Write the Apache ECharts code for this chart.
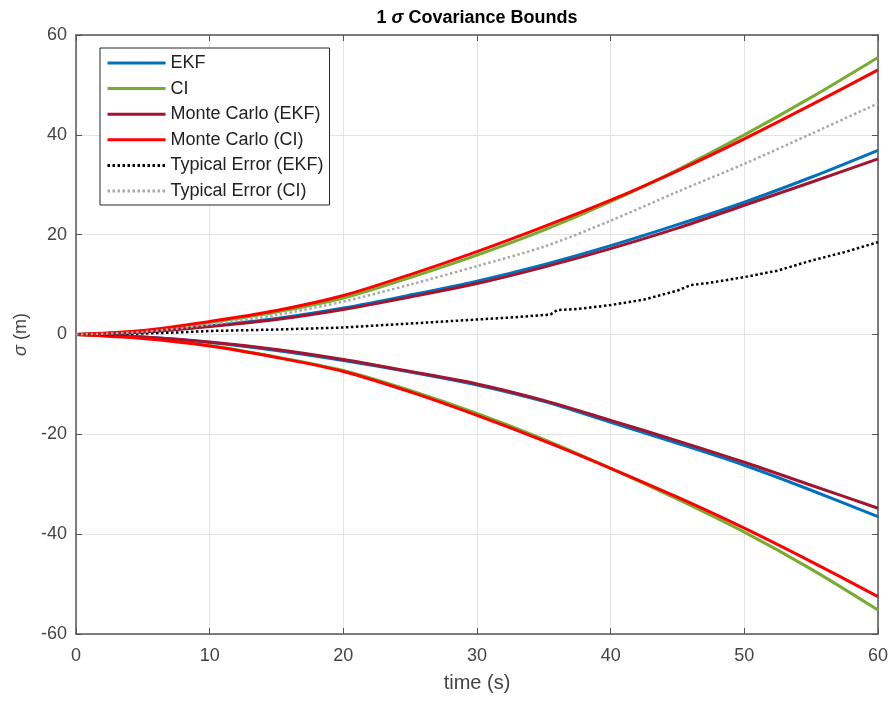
<!DOCTYPE html>
<html>
<head>
<meta charset="utf-8">
<script src="https://cdn.jsdelivr.net/npm/echarts@6/dist/echarts.min.js"></script>
<style>
  html, body { margin: 0; padding: 0; background: #fff; }
  #chart { width: 893px; height: 701px; }
</style>
</head>
<body>
<div id="chart"></div>
<script>
// 1 sigma covariance bounds

var xTicks = [0, 10, 20, 30, 40, 50, 60];
var yTicks = [-60, -40, -20, 0, 20, 40, 60];

// time samples (s) for the bound curves
var tBound = [0, 5, 10, 15, 20, 25, 30, 35, 40, 45, 50, 55, 60];

// upper bounds
var ekfUp    = [0, 0.5, 1.7, 3.2, 5.3, 7.9, 10.7, 14.0, 17.8, 22.0, 26.5, 31.5, 36.9];
var ciUp     = [0, 0.7, 2.4, 4.5, 7.3, 11.4, 15.9, 20.9, 26.6, 33.0, 40.0, 47.5, 55.5];
var mcEkfUp  = [0, 0.5, 1.6, 3.0, 5.0, 7.5, 10.2, 13.5, 17.2, 21.3, 25.9, 30.5, 35.2];
var mcCiUp   = [0, 0.8, 2.6, 4.8, 7.8, 12.0, 16.6, 21.6, 26.9, 32.8, 39.2, 46.0, 53.0];

// lower bounds
var ekfLo    = [0, -0.5, -1.6, -3.2, -5.2, -7.5, -10.1, -13.4, -17.6, -21.8, -26.2, -31.2, -36.5];
var ciLo     = [0, -0.7, -2.2, -4.5, -7.2, -11.2, -15.8, -21.0, -26.8, -33.0, -39.6, -47.0, -55.2];
var mcEkfLo  = [0, -0.5, -1.5, -3.0, -5.0, -7.4, -9.9, -13.2, -17.2, -21.3, -25.6, -30.2, -34.8];
var mcCiLo   = [0, -0.8, -2.3, -4.6, -7.4, -11.5, -16.2, -21.3, -26.8, -32.6, -38.8, -45.5, -52.5];

// typical error (EKF) — noisy, with a small step near 35.5 s
var tErrEkf  = [0, 2.5, 5, 7.5, 10, 12.5, 15, 17.5, 20, 22.5, 25, 27.5, 30, 32.5, 35, 35.5, 36, 37.5, 40, 42.5, 45, 46, 47.5, 50, 52.5, 55, 57.5, 60];
var errEkf   = [0, 0.05, 0.2, 0.4, 0.7, 0.85, 1.0, 1.2, 1.4, 1.8, 2.2, 2.6, 3.0, 3.4, 3.9, 4.0, 4.9, 5.1, 5.9, 7.0, 8.8, 9.9, 10.4, 11.5, 12.8, 14.8, 16.5, 18.5];

// typical error (CI)
var tErrCi   = [0, 5, 10, 15, 20, 25, 30, 35, 40, 45, 50, 55, 60];
var errCi    = [0, 0.5, 2.0, 3.9, 6.6, 10.0, 13.7, 17.6, 22.8, 28.6, 34.2, 40.2, 46.3];

var NAMES = ['EKF', 'CI', 'Monte Carlo (EKF)', 'Monte Carlo (CI)', 'Typical Error (EKF)', 'Typical Error (CI)'];
var COLORS = {
  'EKF': '#0072BD',
  'CI': '#77AC30',
  'Monte Carlo (EKF)': '#A2142F',
  'Monte Carlo (CI)': '#FF0000',
  'Typical Error (EKF)': '#000000',
  'Typical Error (CI)': '#A8A8A8'
};

var FONT = '"Liberation Sans", Arial, Helvetica, sans-serif';
var TXT = '#444';
var AXIS = '#555';

function pairs(ts, vs) {
  return ts.map(function(t, i) { return [t, vs[i]]; });
}

function solid(name, ts, vs) {
  return {
    name: name, type: 'line', data: pairs(ts, vs),
    showSymbol: false, symbol: 'none', smooth: 0.3,
    lineStyle: { color: COLORS[name], width: 3 },
    itemStyle: { color: COLORS[name] },
    emphasis: { disabled: true }, animation: false
  };
}

function dotted(name, ts, vs, smooth) {
  return {
    name: name, type: 'line', data: pairs(ts, vs),
    showSymbol: false, symbol: 'none', smooth: smooth,
    lineStyle: { color: COLORS[name], width: 2.5, type: [2.5, 2.5] },
    itemStyle: { color: COLORS[name] },
    emphasis: { disabled: true }, animation: false
  };
}

var chart = echarts.init(document.getElementById('chart'));

chart.setOption({
  backgroundColor: '#fff',
  animation: false,
  textStyle: { fontFamily: FONT },
  title: {
    text: '{b|1 }{i|σ}{b| Covariance Bounds}',
    left: 472, top: 4, textAlign: 'center',
    textStyle: {
      rich: {
        b: { fontSize: 18, fontWeight: 'bold', color: '#000', fontFamily: FONT },
        i: { fontSize: 18, fontStyle: 'italic', color: '#000', fontFamily: FONT }
      }
    }
  },
  legend: {
    data: NAMES,
    orient: 'vertical',
    left: 100, top: 48,
    padding: [6, 6, 5, 6],
    itemGap: 7.6,
    itemWidth: 58, itemHeight: 14,
    borderColor: '#262626', borderWidth: 1,
    backgroundColor: '#fff',
    itemStyle: { opacity: 0, borderWidth: 0 },
    lineStyle: { width: 3 },
    textStyle: { fontSize: 18, color: '#222', fontFamily: FONT }
  },
  grid: { left: 76, right: 15, top: 35, bottom: 67, containLabel: false },
  xAxis: [{
    type: 'value', min: 0, max: 60, interval: 10,
    name: 'time (s)', nameLocation: 'middle', nameGap: 39,
    nameTextStyle: { fontSize: 20, color: TXT, fontFamily: FONT },
    axisLine: { show: true, onZero: false, lineStyle: { color: AXIS, width: 1.5 } },
    axisTick: { show: true, inside: true, length: 6, lineStyle: { color: AXIS } },
    axisLabel: { fontSize: 18, color: TXT, margin: 13, fontFamily: FONT },
    splitLine: { show: true, lineStyle: { color: '#e3e3e3', width: 1 } }
  }, {
    type: 'value', min: 0, max: 60, interval: 10, position: 'top',
    axisLine: { show: true, onZero: false, lineStyle: { color: AXIS, width: 1.5 } },
    axisTick: { show: true, inside: true, length: 6, lineStyle: { color: AXIS } },
    axisLabel: { show: false }, splitLine: { show: false }
  }],
  yAxis: [{
    type: 'value', min: -60, max: 60, interval: 20,
    name: '{i|σ} (m)', nameLocation: 'middle', nameGap: 32,
    nameTextStyle: {
      fontSize: 18, color: TXT, fontFamily: FONT,
      rich: { i: { fontSize: 18, fontStyle: 'italic', color: TXT, fontFamily: FONT } }
    },
    axisLine: { show: true, onZero: false, lineStyle: { color: AXIS, width: 1.5 } },
    axisTick: { show: true, inside: true, length: 6, lineStyle: { color: AXIS } },
    axisLabel: { fontSize: 18, color: TXT, margin: 9, fontFamily: FONT },
    splitLine: { show: true, lineStyle: { color: '#e3e3e3', width: 1 } }
  }, {
    type: 'value', min: -60, max: 60, interval: 20, position: 'right',
    axisLine: { show: true, onZero: false, lineStyle: { color: AXIS, width: 1.5 } },
    axisTick: { show: true, inside: true, length: 6, lineStyle: { color: AXIS } },
    axisLabel: { show: false }, splitLine: { show: false }
  }],
  series: [
    solid('EKF', tBound, ekfUp),
    solid('EKF', tBound, ekfLo),
    solid('CI', tBound, ciUp),
    solid('CI', tBound, ciLo),
    solid('Monte Carlo (EKF)', tBound, mcEkfUp),
    solid('Monte Carlo (EKF)', tBound, mcEkfLo),
    solid('Monte Carlo (CI)', tBound, mcCiUp),
    solid('Monte Carlo (CI)', tBound, mcCiLo),
    dotted('Typical Error (EKF)', tErrEkf, errEkf, false),
    dotted('Typical Error (CI)', tErrCi, errCi, 0.3)
  ]
});
</script>
</body>
</html>
